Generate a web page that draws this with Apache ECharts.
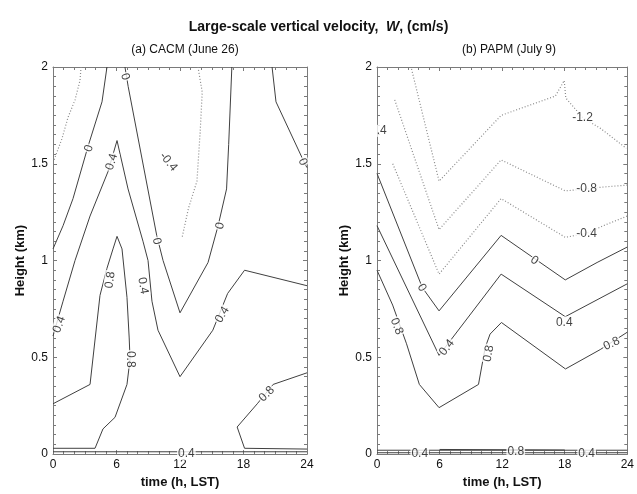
<!DOCTYPE html>
<html>
<head>
<meta charset="utf-8">
<script src="https://cdn.jsdelivr.net/npm/echarts@6/dist/echarts.min.js"></script>
<style>
html, body { margin: 0; padding: 0; background: #fff; }
#main { width: 637px; height: 494px; }
</style>
</head>
<body>
<div id="main"></div>
<script>
// contour lines, points are [time (h), height (km)]
// (a) CACM
var aNeg04Left = [[2.65, 2.0], [2.55, 1.93], [2.08, 1.83], [1.42, 1.74], [0.85, 1.63], [0.1, 1.52]];
var aNeg04Mid = [[13.7, 2.0], [14.1, 1.87], [13.9, 1.66], [13.6, 1.41], [12.8, 1.27], [12.2, 1.12]];
var aZeroLeft = [[5.1, 2.0], [4.63, 1.82], [3.31, 1.59], [1.89, 1.32], [0.95, 1.18], [0, 1.06]];
var aZeroMid = [[6.8, 2.0], [7.1, 1.9], [9.8, 1.13], [10.4, 1.0], [12.0, 0.73], [14.65, 0.99], [15.6, 1.18], [16.4, 1.37], [16.6, 1.6], [16.9, 2.0]];
var aZeroRight = [[20.7, 2.0], [21.07, 1.82], [23.8, 1.5], [24, 1.48]];
var aPos04 = [[0, 0.61], [0.95, 0.79], [2.08, 1.0], [3.5, 1.23], [5.2, 1.46], [6.05, 1.62], [7.09, 1.37], [8.5, 1.1], [8.98, 1.0], [9.35, 0.79], [9.92, 0.64], [12.0, 0.40], [15.1, 0.64], [16.5, 0.83], [18.1, 0.95], [24, 0.87]];
var aPos08Left = [[0, 0.03], [3.97, 0.03], [4.72, 0.13], [5.86, 0.19], [6.99, 0.36], [7.28, 0.49], [7.2, 0.6], [6.99, 0.81], [6.52, 1.06], [6.05, 1.125], [5.67, 1.06], [5.1, 0.96], [4.44, 0.82], [3.5, 0.36], [0, 0.26]];
var aPos08Right = [[24, 0.42], [20.8, 0.36], [19.3, 0.26], [17.4, 0.14], [18.1, 0.03], [24, 0.026]];
var aPos04Bottom = [[0, 0.012], [24, 0.012]];

// (b) PAPM
var bNeg12 = [[3.31, 1.99], [5.95, 1.41], [11.9, 1.75], [17.1, 1.85], [17.95, 1.93], [18.1, 1.84], [19.7, 1.74], [21.5, 1.68], [23.9, 1.58]];
var bNeg08 = [[1.7, 1.83], [5.95, 1.16], [11.9, 1.52], [18.05, 1.36], [20.1, 1.37], [21.7, 1.38], [24, 1.39]];
var bNeg04 = [[1.51, 1.50], [5.95, 0.93], [11.9, 1.32], [18.05, 1.12], [20.1, 1.14], [21.7, 1.18], [24, 1.23]];
var bZero = [[0, 1.45], [4.35, 0.86], [5.95, 0.74], [11.9, 1.13], [18.05, 0.9], [21.1, 0.99], [24, 1.07]];
var bPos04 = [[0, 1.18], [5.95, 0.51], [11.9, 0.93], [18.05, 0.71], [24, 0.88]];
var bPos08 = [[0, 0.95], [1.5, 0.77], [2.83, 0.57], [4.06, 0.36], [5.95, 0.24], [9.73, 0.36], [10.37, 0.55], [10.84, 0.62], [11.93, 0.68], [18.07, 0.44], [21.4, 0.54], [24, 0.63]];
var bPos04Bottom = [[0, 0.02], [24, 0.02]];
var bPos08Bottom = [[6, 0.024], [18, 0.021]];
var bLowBottom = [[0, 0.007], [24, 0.007]];

// contour labels: [time, height, text]
var aLabels = [[3.4, 1.58, '0'], [6.8, 1.95, '0'], [9.8, 1.1, '0'], [15.8, 1.18, '0'], [23.6, 1.51, '0'],
  [10.9, 1.51, '-0.4'], [5.55, 1.51, '0.4'], [0.6, 0.67, '0.4'], [8.5, 0.87, '0.4'], [16.0, 0.72, '0.4'],
  [5.4, 0.9, '0.8'], [7.3, 0.49, '0.8'], [20.2, 0.31, '0.8'], [12.6, 0.0, '0.4']];
var aLabelAngles = [74, -75, -79, 78, -65, -50, 74, 70, -80, 60, 82, -90, 45, 0];

var bLabels = [[0.45, 1.67, '.4'], [19.7, 1.74, '-1.2'], [20.1, 1.37, '-0.8'], [20.1, 1.14, '-0.4'],
  [4.3, 0.86, '0'], [15.1, 1.0, '0'], [6.7, 0.55, '0.4'], [17.95, 0.68, '0.4'],
  [1.9, 0.66, '0.8'], [10.7, 0.52, '0.8'], [22.5, 0.57, '0.8'],
  [4.1, 0.0, '0.4'], [13.3, 0.015, '0.8'], [20.1, 0.0, '0.4']];
var bLabelAngles = [0, 0, 0, 0, -60, -35, 52, 0, -68, 80, 25, 0, 0, 0];

var xTicks = [0, 6, 12, 18, 24];
var yTicks = [0, 0.5, 1, 1.5, 2];

var font = 'Liberation Sans, Arial, sans-serif';
var frameColor = '#7a7a7a';

function xAx(grid, bottom) {
  return {
    type: 'value', gridIndex: grid, position: bottom ? 'bottom' : 'top',
    min: xTicks[0], max: xTicks[xTicks.length - 1], interval: 6,
    name: bottom ? 'time (h, LST)' : '', nameLocation: 'middle', nameGap: 19,
    nameTextStyle: { fontFamily: font, fontSize: 13, fontWeight: 'bold', color: '#111' },
    axisLine: { show: true, onZero: false, lineStyle: { color: frameColor, width: 1 } },
    axisTick: { show: true, inside: true, length: 4, lineStyle: { color: frameColor } },
    minorTick: { show: true, splitNumber: 6, length: 3, lineStyle: { color: frameColor } },
    axisLabel: { show: bottom, fontFamily: font, fontSize: 12, color: '#111', margin: 5 },
    splitLine: { show: false }
  };
}
function yAx(grid, left) {
  return {
    type: 'value', gridIndex: grid, position: left ? 'left' : 'right',
    min: yTicks[0], max: yTicks[yTicks.length - 1], interval: 0.5,
    name: left ? 'Height (km)' : '', nameLocation: 'middle', nameGap: 25,
    nameTextStyle: { fontFamily: font, fontSize: 13, fontWeight: 'bold', color: '#111' },
    axisLine: { show: true, onZero: false, lineStyle: { color: frameColor, width: 1 } },
    axisTick: { show: true, inside: true, length: 4, lineStyle: { color: frameColor } },
    minorTick: { show: true, splitNumber: 10, length: 3, lineStyle: { color: frameColor } },
    axisLabel: { show: left, fontFamily: font, fontSize: 12, color: '#111', margin: 5 },
    splitLine: { show: false }
  };
}

var series = [];
function contour(data, xi, yi, dotted) {
  series.push({
    type: 'line', xAxisIndex: xi, yAxisIndex: yi, data: data,
    showSymbol: false, symbol: 'none', silent: true, z: 2,
    lineStyle: dotted ? { color: '#8a8a8a', width: 1.2, type: [1, 2] } : { color: '#404040', width: 1 }
  });
}
function labels(list, angles, xi, yi) {
  series.push({
    type: 'scatter', xAxisIndex: xi, yAxisIndex: yi, symbolSize: 0, z: 5, silent: true,
    data: list.map(function (d, i) {
      return { value: d, label: { rotate: angles[i] } };
    }),
    label: {
      show: true, position: 'inside', formatter: function (p) { return p.value[2]; },
      fontFamily: font, fontSize: 12, color: '#111', backgroundColor: '#fff', padding: [0, 1]
    }
  });
}

[aNeg04Left, aNeg04Mid].forEach(function (d) { contour(d, 0, 0, true); });
[aZeroLeft, aZeroMid, aZeroRight, aPos04, aPos08Left, aPos08Right, aPos04Bottom].forEach(function (d) { contour(d, 0, 0, false); });
labels(aLabels, aLabelAngles, 0, 0);

[bNeg12, bNeg08, bNeg04].forEach(function (d) { contour(d, 2, 2, true); });
[bZero, bPos04, bPos08, bPos04Bottom, bPos08Bottom, bLowBottom].forEach(function (d) { contour(d, 2, 2, false); });
labels(bLabels, bLabelAngles, 2, 2);

var myChart = echarts.init(document.getElementById('main'));
myChart.setOption({
  animation: false,
  backgroundColor: '#fff',
  title: [{
    text: '{b|Large-scale vertical velocity,  }{i|W}{b|, (cm/s)}',
    left: 'center', top: 15,
    textStyle: {
      rich: {
        b: { fontFamily: font, fontSize: 14, fontWeight: 'bold', color: '#111' },
        i: { fontFamily: font, fontSize: 14, fontWeight: 'bold', fontStyle: 'italic', color: '#111' }
      }
    }
  }, {
    text: '(a) CACM (June 26)', left: 180, top: 39, textAlign: 'center',
    textStyle: { fontFamily: font, fontSize: 12, fontWeight: 'normal', color: '#111' }
  }, {
    text: '(b) PAPM (July 9)', left: 504, top: 39, textAlign: 'center',
    textStyle: { fontFamily: font, fontSize: 12, fontWeight: 'normal', color: '#111' }
  }],
  grid: [
    { left: 53, top: 67, width: 254, height: 391 },
    { left: 377, top: 67, width: 254, height: 391 }
  ],
  xAxis: [xAx(0, true), xAx(0, false), xAx(1, true), xAx(1, false)],
  yAxis: [yAx(0, true), yAx(0, false), yAx(1, true), yAx(1, false)],
  series: series
});
</script>
</body>
</html>
